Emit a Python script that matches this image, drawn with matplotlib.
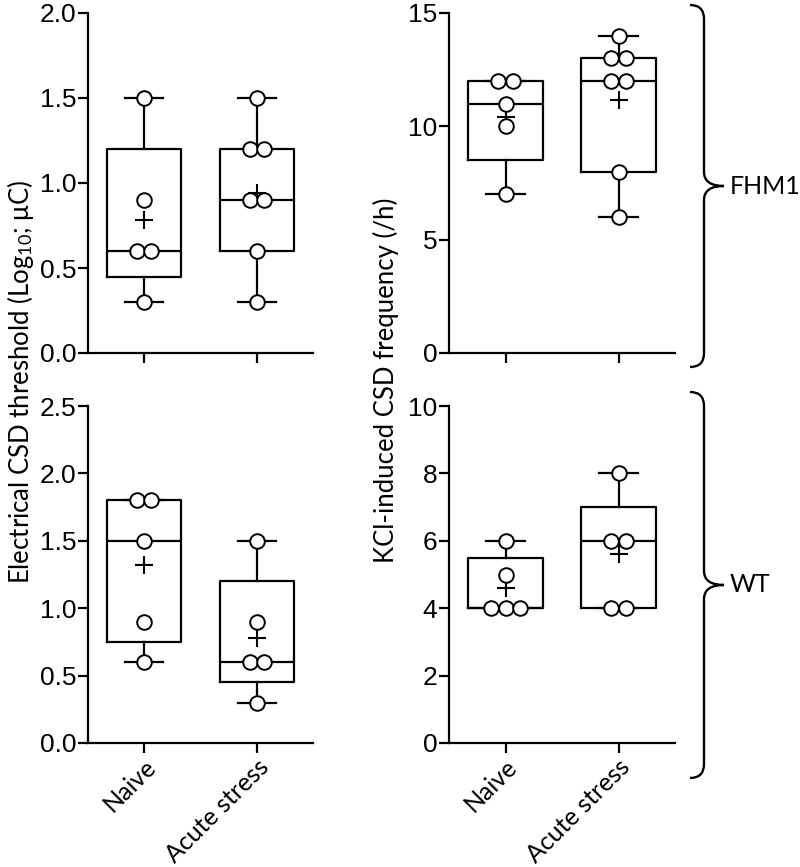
# 箱线图 + 散点：FHM1 / WT 两组

import numpy as np
import matplotlib
matplotlib.use('Agg')
import matplotlib.pyplot as plt
from matplotlib.path import Path
import matplotlib.patches as patches

plt.rcParams['mathtext.fontset'] = 'custom'
plt.rcParams['mathtext.rm'] = 'Lato'
plt.rcParams['mathtext.it'] = 'Lato:italic'

# 数据
groups = ['Naive', 'Acute stress']

fhm1_elec_naive = [1.5, 0.9, 0.6, 0.6, 0.3]
fhm1_elec_stress = [1.5, 1.2, 1.2, 0.9, 0.9, 0.6, 0.3]
fhm1_kcl_naive = [12, 12, 11, 10, 7]
fhm1_kcl_stress = [14, 13, 13, 12, 12, 8, 6]

wt_elec_naive = [1.8, 1.8, 1.5, 0.9, 0.6]
wt_elec_stress = [1.5, 0.9, 0.6, 0.6, 0.3]
wt_kcl_naive = [6, 5, 4, 4, 4]
wt_kcl_stress = [8, 6, 6, 4, 4]

fhm1_elec_ticks = [0.0, 0.5, 1.0, 1.5, 2.0]
wt_elec_ticks = [0.0, 0.5, 1.0, 1.5, 2.0, 2.5]
fhm1_kcl_ticks = [0, 5, 10, 15]
wt_kcl_ticks = [0, 2, 4, 6, 8, 10]

W, H = 800, 867
fig = plt.figure(figsize=(W / 100, H / 100), dpi=100)


def px_axes(x0, y_top, w, h):
    # 像素坐标 -> 图形比例
    return fig.add_axes([x0 / W, 1 - (y_top + h) / H, w / W, h / H])


def box_stats(vals):
    v = np.asarray(vals, dtype=float)
    q1, med, q3 = np.percentile(v, [25, 50, 75], method='weibull')
    return dict(med=med, q1=q1, q3=q3, whislo=v.min(), whishi=v.max(),
                mean=v.mean(), fliers=[])


def draw_panel(ax, data, ticks, fmt, show_xlabels):
    lw = 1.6
    stats = [box_stats(d) for d in data]
    line = dict(color='black', linewidth=lw)
    ax.bxp(stats, positions=[1, 2], widths=0.66, capwidths=0.34,
           showmeans=False, showfliers=False,
           boxprops=line, whiskerprops=line, capprops=line, medianprops=line)
    for pos, d in zip([1, 2], data):
        # 均值 +
        ax.plot(pos, np.mean(d), marker='+', ms=13, mew=1.5, color='black',
                zorder=3)
        # 散点，相同数值左右错开
        vals, counts = np.unique(d, return_counts=True)
        for v, c in zip(vals, counts):
            xs = pos + (np.arange(c) - (c - 1) / 2) * 0.125
            ax.plot(xs, [v] * c, 'o', ms=10.5, mfc='white', mec='black',
                    mew=1.4, ls='none', zorder=4, clip_on=False)
    ax.set_xlim(0.5, 2.5)
    ax.set_ylim(ticks[0], ticks[-1])
    ax.set_yticks(ticks)
    ax.set_yticklabels([fmt.format(t) for t in ticks],
                       fontfamily='Liberation Sans', fontsize=19)
    ax.set_xticks([1, 2])
    if show_xlabels:
        ax.set_xticklabels(groups, rotation=45, ha='right',
                           rotation_mode='anchor', fontfamily='Lato',
                           fontsize=18)
    else:
        ax.set_xticklabels([])
    for s in ['top', 'right']:
        ax.spines[s].set_visible(False)
    for s in ['left', 'bottom']:
        ax.spines[s].set_linewidth(lw)
    ax.tick_params(axis='both', width=lw, length=7, pad=1.5)


ax_tl = px_axes(88, 13, 225, 340)
ax_tr = px_axes(449, 13, 226, 340)
ax_bl = px_axes(88, 406, 225, 337)
ax_br = px_axes(449, 406, 226, 337)

draw_panel(ax_tl, [fhm1_elec_naive, fhm1_elec_stress], fhm1_elec_ticks, '{:.1f}', False)
draw_panel(ax_tr, [fhm1_kcl_naive, fhm1_kcl_stress], fhm1_kcl_ticks, '{:d}', False)
draw_panel(ax_bl, [wt_elec_naive, wt_elec_stress], wt_elec_ticks, '{:.1f}', True)
draw_panel(ax_br, [wt_kcl_naive, wt_kcl_stress], wt_kcl_ticks, '{:d}', True)

# y 轴标题
fig.text(21 / W, 1 - 382 / H, 'Electrical CSD threshold (Log$_{10}$; μC)',
         rotation=90, ha='center', va='center', fontfamily='Lato', fontsize=18.5)
fig.text(386 / W, 1 - 380 / H, 'KCl-induced CSD frequency (/h)',
         rotation=90, ha='center', va='center', fontfamily='Lato', fontsize=18.5)


# 大括号
def brace(y_top, y_bot, x=704, r=14, tip=20):
    mid = (y_top + y_bot) / 2
    pts = [(x - r, y_top), (x, y_top), (x, y_top + r),
           (x, mid - r), (x, mid), (x + tip, mid),
           (x, mid), (x, mid + r),
           (x, y_bot - r), (x, y_bot), (x - r, y_bot)]
    codes = [Path.MOVETO, Path.CURVE3, Path.CURVE3,
             Path.LINETO, Path.CURVE3, Path.CURVE3,
             Path.CURVE3, Path.CURVE3,
             Path.LINETO, Path.CURVE3, Path.CURVE3]
    verts = [(px / W, 1 - py / H) for px, py in pts]
    fig.patches.append(patches.PathPatch(Path(verts, codes), fill=False,
                                         lw=1.7, color='black',
                                         transform=fig.transFigure))
    return mid


m1 = brace(5, 367)
fig.text(730 / W, 1 - m1 / H, 'FHM1', ha='left', va='center',
         fontfamily='Lato', fontsize=18)
m2 = brace(392, 778)
fig.text(730 / W, 1 - m2 / H, 'WT', ha='left', va='center',
         fontfamily='Lato', fontsize=18)

fig.savefig('out.png', dpi=100)
